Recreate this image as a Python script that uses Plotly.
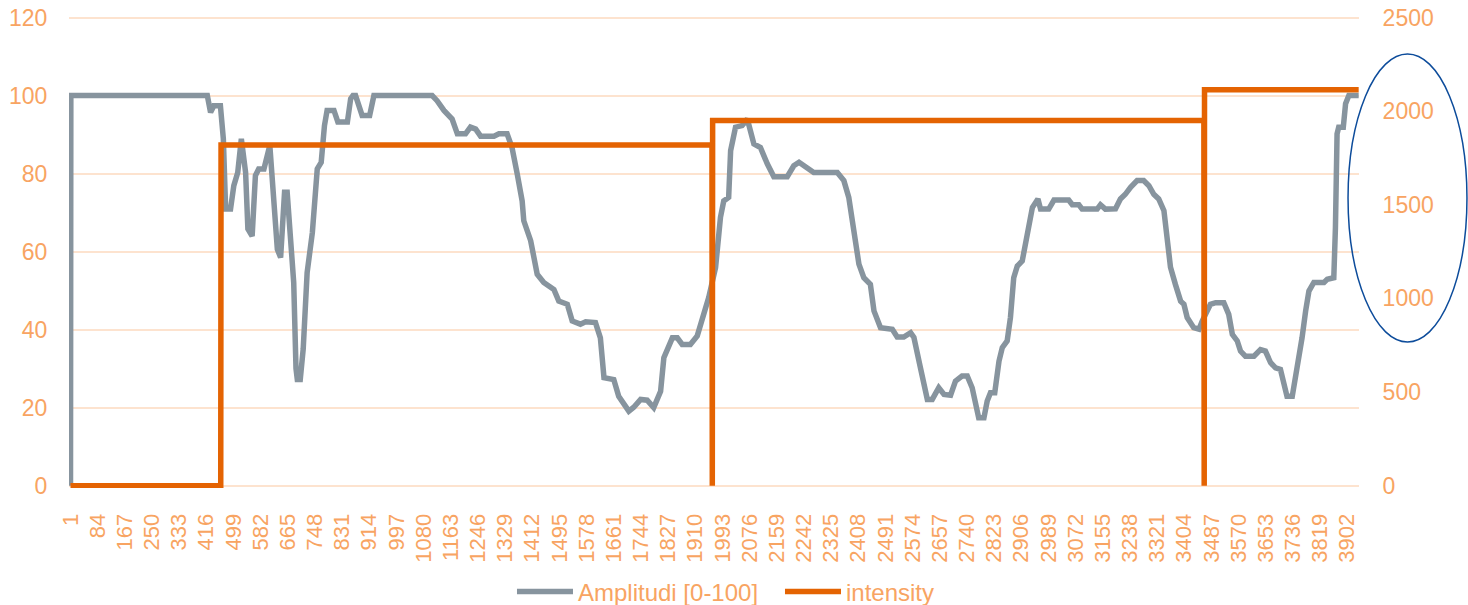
import plotly.graph_objects as go

# Amplitude trace: sample index -> amplitude (0-100 scale)
amp_index = [1, 2, 419, 429, 439, 459, 468, 475, 490, 500, 512, 523, 536, 543, 556, 566, 576, 592,
             610, 617, 624, 633, 643, 655, 663, 675, 683, 690, 694, 703, 712, 724, 740, 755, 767,
             777, 785, 806, 818, 847, 857, 864, 872, 892, 915, 928, 1106, 1121, 1142, 1167, 1183,
             1208, 1223, 1239, 1254, 1295, 1310, 1335, 1350, 1366, 1381, 1386, 1407, 1427, 1447,
             1478, 1493, 1519, 1534, 1559, 1575, 1605, 1620, 1631, 1661, 1676, 1707, 1722, 1743,
             1763, 1783, 1804, 1814, 1840, 1855, 1870, 1895, 1916, 1936, 1951, 1972, 1987, 1997,
             2012, 2018, 2033, 2053, 2069, 2089, 2109, 2130, 2150, 2191, 2211, 2227, 2252, 2272,
             2344, 2364, 2379, 2394, 2410, 2425, 2445, 2456, 2476, 2512, 2527, 2547, 2568, 2578,
             2593, 2598, 2619, 2634, 2654, 2670, 2690, 2705, 2725, 2741, 2756, 2766, 2776, 2792,
             2802, 2812, 2825, 2838, 2848, 2863, 2873, 2883, 2894, 2909, 2919, 2929, 2940, 2957,
             2965, 2990, 3006, 3051, 3062, 3082, 3092, 3138, 3148, 3163, 3194, 3209, 3224, 3240,
             3260, 3280, 3296, 3311, 3326, 3342, 3352, 3362, 3377, 3393, 3403, 3413, 3433, 3449,
             3459, 3474, 3484, 3500, 3525, 3540, 3551, 3566, 3576, 3591, 3617, 3637, 3652, 3668,
             3683, 3698, 3708, 3718, 3734, 3744, 3754, 3764, 3775, 3785, 3800, 3831, 3841, 3861,
             3866, 3871, 3876, 3890, 3897, 3907, 3937]
amp_value = [0, 100, 100, 95.7, 97.4, 97.4, 88.9, 70.9, 70.9, 76.9, 80.3, 88.9, 80.3, 65.8, 64, 79.5,
             81.2, 81.2, 87.2, 80.3, 73.5, 60.6, 58.5, 75.2, 75.2, 61.5, 52.1, 30, 27.2, 27.2, 35,
             54.6, 64.9, 81.2, 82.9, 92.3, 96.2, 96.2, 93.2, 93.2, 99.2, 100, 100, 94.9, 94.9, 100,
             100, 98.7, 96.2, 94, 90.2, 90.2, 91.9, 91.4, 89.6, 89.6, 90.2, 90.2, 86.7, 79.9, 73,
             67.9, 62.8, 54.2, 52.1, 50.3, 47.3, 46.5, 42.2, 41.4, 42, 41.8, 37.9, 27.7, 27.2, 22.9,
             19.1, 20.1, 22.1, 21.9, 20, 24.2, 32.8, 37.9, 37.9, 36.2, 36.2, 38.4, 43.9, 48.2, 55.9,
             68.8, 73, 73.9, 85.9, 91.9, 92.3, 94, 87.6, 86.7, 82.5, 79.2, 79.2, 82, 82.9, 81.6,
             80.3, 80.3, 78.2, 73.9, 66.2, 56.8, 53.3, 51.6, 44.8, 40.5, 40.1, 38.1, 38.1, 39.2, 38,
             31.1, 30.2, 22.1, 22.1, 25.1, 23.4, 23.2, 26.8, 28.1, 28.1, 25.1, 20.8, 17.4, 17.4,
             21.7, 23.8, 23.8, 31.9, 35.4, 37.1, 43.1, 53.3, 56.3, 57.6, 61.9, 67, 71.3, 73.5,
             70.9, 70.9, 73.2, 73.2, 72, 72, 70.9, 70.9, 72, 70.9, 71, 73.5, 74.7, 76.5,
             78.2, 78.2, 76.9, 74.7, 73.5, 70.5, 63, 56, 51.6, 47.3, 46.5, 43.1, 40.5, 40.1,
             42.2, 44.8, 46.5, 46.9, 46.9, 43.9, 38.8, 37.1, 34.5, 33.2, 33.2, 34.9, 34.5, 31.5,
             30.2, 29.8, 25.9, 22.9, 22.9, 27.7, 31.9, 37.9, 44.8, 49.9, 52.1, 52.1, 52.9, 53.3,
             66.2, 90.2, 91.9, 91.9, 97.9, 100, 100]

# Intensity: constant levels with a single zero sample between them
int_index = [1, 460, 461, 1961, 1962, 1963, 3464, 3465, 3466, 3937]
int_value = [0, 0, 1820, 1820, 0, 1950, 1950, 0, 2115, 2115]

# Category tick labels
x_ticks = [1, 84, 167, 250, 333, 416, 499, 582, 665, 748, 831, 914, 997, 1080, 1163, 1246,
           1329, 1412, 1495, 1578, 1661, 1744, 1827, 1910, 1993, 2076, 2159, 2242, 2325, 2408,
           2491, 2574, 2657, 2740, 2823, 2906, 2989, 3072, 3155, 3238, 3321, 3404, 3487, 3570,
           3653, 3736, 3819, 3902]
left_ticks = [0, 20, 40, 60, 80, 100, 120]
right_ticks = [0, 500, 1000, 1500, 2000, 2500]

LABEL = "#F8A462"
GRID = "#FDE3CF"
GREY = "#87949E"
ORANGE = "#E46302"
FONT = "Liberation Sans, Arial, sans-serif"

fig = go.Figure()
fig.add_trace(go.Scatter(x=amp_index, y=amp_value, mode="lines", name="Amplitudi [0-100]",
                         line=dict(color=GREY, width=5.5), yaxis="y"))
fig.add_trace(go.Scatter(x=int_index, y=int_value, mode="lines", name="intensity",
                         line=dict(color=ORANGE, width=5.5), yaxis="y2"))

fig.update_layout(
    width=1468, height=605,
    margin=dict(l=69, r=109, t=16, b=117, autoexpand=False),
    plot_bgcolor="white", paper_bgcolor="white",
    font=dict(family=FONT, size=23, color=LABEL),
    xaxis=dict(range=[-3.6, 3938], tickmode="array", tickvals=x_ticks,
               ticktext=[str(v) for v in x_ticks], tickangle=-90, automargin=False,
               showgrid=False, zeroline=False, showline=False,
               ticks="outside", ticklen=16, tickcolor="rgba(0,0,0,0)",
               tickfont=dict(size=22, color=LABEL)),
    yaxis=dict(range=[-0.6, 120.4], tickmode="array", tickvals=left_ticks, automargin=False,
               showgrid=True, gridcolor=GRID, gridwidth=1.5, zeroline=False, showline=False,
               ticks="outside", ticklen=16, tickcolor="rgba(0,0,0,0)",
               tickfont=dict(size=23, color=LABEL)),
    yaxis2=dict(range=[-12.5, 2508.33], tickmode="array", tickvals=right_ticks, automargin=False,
                overlaying="y", side="right", showgrid=False, zeroline=False, showline=False,
                ticks="outside", ticklen=18, tickcolor="rgba(0,0,0,0)",
                tickfont=dict(size=23, color=LABEL)),
    showlegend=True,
    legend=dict(orientation="h", x=0.3434, xanchor="left", yref="container",
                y=0.0215, yanchor="middle", entrywidth=197,
                font=dict(size=24, color=LABEL), itemwidth=56, bgcolor="rgba(0,0,0,0)"),
    shapes=[dict(type="circle", xref="paper", yref="paper",
                 x0=0.9915, x1=1.0837, y0=0.3093, y1=0.9195,
                 line=dict(color="#0D4C9B", width=1.5))],
)

fig.write_html("out.html")
